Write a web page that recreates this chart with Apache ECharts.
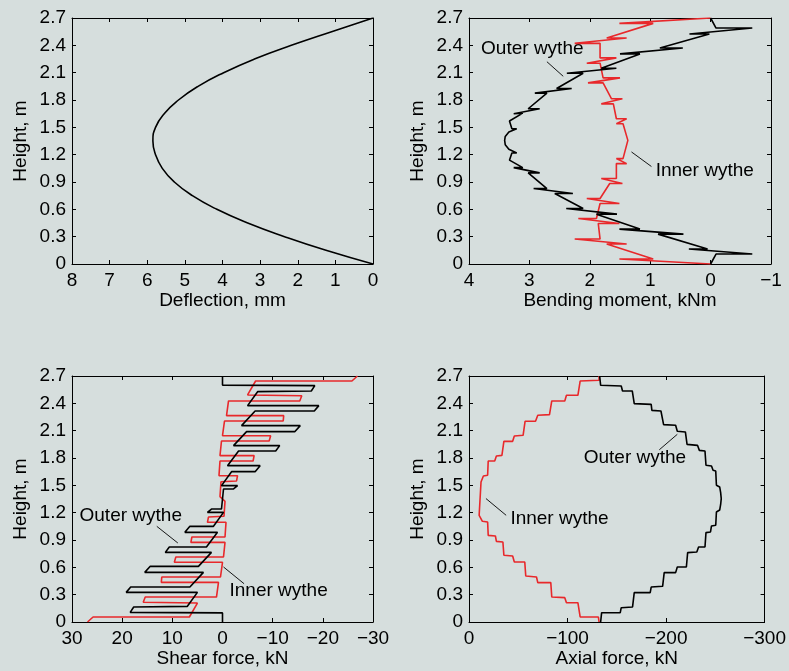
<!DOCTYPE html>
<html>
<head>
<meta charset="utf-8">
<script src="https://cdn.jsdelivr.net/npm/echarts/dist/echarts.min.js"></script>
<style>
html, body { margin: 0; padding: 0; background: #d6dedd; }
#container { width: 789px; height: 671px; }
</style>
</head>
<body>
<div id="container"></div>
<script>
// [value, height] pairs
var deflection = [
    [0, 0], [1.25, 0.15], [2.35, 0.3], [3.33, 0.45], [4.15, 0.6], [4.8, 0.75], [5.28, 0.9],
    [5.6, 1.05], [5.78, 1.2], [5.85, 1.35], [5.78, 1.5], [5.55, 1.65], [5.17, 1.8], [4.65, 1.95],
    [3.97, 2.1], [3.15, 2.25], [2.17, 2.4], [1.1, 2.55], [0, 2.7]
];

var momentOuter = [
    [0, 2.70], [-0.09, 2.59], [-0.69, 2.59], [0.35, 2.525], [0.02, 2.525], [0.84, 2.371], [0.46, 2.371],
    [1.50, 2.306], [1.17, 2.306], [1.81, 2.149], [1.56, 2.149], [2.38, 2.094], [2.11, 2.094],
    [2.55, 1.926], [2.30, 1.926], [2.91, 1.875], [2.71, 1.875], [3.02, 1.704], [2.83, 1.704],
    [3.26, 1.649], [3.11, 1.656], [3.33, 1.57], [3.29, 1.485], [3.21, 1.485], [3.34, 1.45],
    [3.40, 1.40], [3.41, 1.357], [3.40, 1.31], [3.34, 1.26], [3.21, 1.219], [3.29, 1.219],
    [3.33, 1.14], [3.11, 1.058], [3.26, 1.058], [2.83, 1.000], [3.02, 1.000], [2.71, 0.828],
    [2.93, 0.828], [2.28, 0.773], [2.58, 0.773], [2.11, 0.609], [2.39, 0.609], [1.55, 0.547],
    [1.89, 0.547], [1.17, 0.383], [1.51, 0.383], [0.45, 0.328], [0.87, 0.328], [0.05, 0.164],
    [0.36, 0.164], [-0.69, 0.109], [-0.09, 0.109], [0, 0]
];

var momentInner = [
    [0, 2.70], [1.51, 2.641], [0.95, 2.641], [1.72, 2.481], [1.39, 2.481], [2.25, 2.422], [1.83, 2.422],
    [1.83, 2.262], [1.56, 2.262], [2.05, 2.204], [1.83, 2.204], [1.78, 2.043], [1.50, 2.043],
    [2.03, 1.988], [1.78, 1.988], [1.64, 1.813], [1.46, 1.813], [1.81, 1.758], [1.61, 1.758],
    [1.56, 1.594], [1.39, 1.594], [1.56, 1.540], [1.45, 1.540], [1.37, 1.357],
    [1.45, 1.157], [1.56, 1.157], [1.39, 1.102], [1.56, 1.102], [1.56, 0.938], [1.81, 0.938],
    [1.46, 0.883], [1.67, 0.883], [1.83, 0.719], [2.05, 0.719], [1.51, 0.664], [1.83, 0.664],
    [1.89, 0.500], [2.19, 0.500], [1.51, 0.445], [1.86, 0.445], [1.83, 0.274], [2.25, 0.274],
    [1.39, 0.219], [1.72, 0.219], [0.95, 0.055], [1.51, 0.055], [0, 0]
];

var shearOuter = [
    [0, 2.70], [0, 2.60], [-18.4, 2.594], [-17.7, 2.536], [-7.0, 2.528], [-5.0, 2.375], [-19.2, 2.375],
    [-18.3, 2.316], [-6.5, 2.316], [-3.8, 2.155], [-15.5, 2.155], [-14.4, 2.089], [-4.8, 2.089],
    [-2.2, 1.936], [-11.4, 1.936], [-10.6, 1.877], [-3.2, 1.877], [-1.0, 1.716], [-7.5, 1.716],
    [-6.5, 1.650], [-1.8, 1.650], [0.2, 1.497], [-3.0, 1.497], [-2.2, 1.460], [-0.2, 1.460],
    [0.2, 1.240], [2.2, 1.240], [3.0, 1.203], [-0.2, 1.203], [1.8, 1.050], [6.5, 1.050],
    [7.5, 0.984], [1.0, 0.984], [3.2, 0.823], [10.6, 0.823], [11.4, 0.764], [2.2, 0.764],
    [4.8, 0.611], [14.4, 0.611], [15.5, 0.545], [3.8, 0.545], [6.5, 0.384], [18.3, 0.384],
    [19.2, 0.325], [5.0, 0.325], [7.0, 0.172], [17.7, 0.164], [18.4, 0.106], [0, 0.10], [0, 0]
];

var shearInner = [
    [-26.9, 2.70], [-25.8, 2.645], [-6.6, 2.645], [-5.0, 2.492], [-15.8, 2.484], [-15.4, 2.426],
    [-1.2, 2.426], [-0.8, 2.265], [-12.2, 2.265], [-12.1, 2.206], [-0.4, 2.206], [0.0, 2.045],
    [-9.6, 2.045], [-9.3, 1.987], [0.2, 1.987], [0.5, 1.826], [-6.3, 1.826], [-6.1, 1.767],
    [0.5, 1.767], [0.7, 1.606], [-3.0, 1.606], [-2.8, 1.548], [0.3, 1.540], [0.5, 1.376],
    [-0.5, 1.324], [-0.3, 1.160], [2.8, 1.152], [3.0, 1.094], [-0.7, 1.094], [-0.5, 0.933],
    [6.1, 0.933], [6.3, 0.874], [-0.5, 0.874], [-0.2, 0.713], [9.3, 0.713], [9.6, 0.655],
    [0, 0.655], [0.4, 0.494], [12.1, 0.494], [12.2, 0.435], [0.8, 0.435], [1.2, 0.274],
    [15.4, 0.274], [15.8, 0.216], [5.0, 0.208], [6.6, 0.055], [25.8, 0.055], [26.9, 0]
];

var axialOuter = [
    [-132.6, 2.70], [-133.6, 2.598], [-154.5, 2.591], [-155.8, 2.536], [-165.7, 2.536],
    [-167.7, 2.397], [-184.9, 2.389], [-185.6, 2.323], [-194.8, 2.316], [-197.5, 2.166],
    [-209.7, 2.159], [-211.4, 2.093], [-219.6, 2.086], [-221.3, 1.950], [-231.9, 1.939],
    [-233.8, 1.884], [-239.5, 1.877], [-240.5, 1.720], [-246.1, 1.712], [-247.7, 1.665],
    [-250.4, 1.657], [-251.1, 1.500], [-254.4, 1.482], [-255.4, 1.42], [-256.0, 1.354],
    [-255.4, 1.29], [-254.4, 1.229], [-251.1, 1.207], [-250.4, 1.061], [-246.1, 1.054],
    [-245.1, 0.988], [-240.5, 0.981], [-239.5, 0.823], [-233.0, 0.823], [-231.2, 0.768],
    [-221.9, 0.761], [-220.6, 0.604], [-211.4, 0.604], [-209.7, 0.542], [-198.1, 0.542],
    [-196.5, 0.392], [-184.9, 0.384], [-183.9, 0.322], [-167.7, 0.322], [-166.0, 0.165],
    [-154.5, 0.157], [-153.5, 0.102], [-134.6, 0.102], [-133.6, 0]
];

var axialInner = [
    [-132.0, 2.70], [-132.0, 2.653], [-112.8, 2.645], [-110.5, 2.488], [-98.9, 2.488],
    [-97.2, 2.426], [-84.0, 2.426], [-81.7, 2.276], [-69.8, 2.269], [-67.5, 2.203],
    [-56.9, 2.203], [-54.9, 2.049], [-46.0, 2.042], [-44.3, 1.983], [-35.4, 1.983],
    [-33.4, 1.829], [-27.8, 1.822], [-26.1, 1.767], [-19.5, 1.767], [-18.9, 1.610],
    [-14.6, 1.603], [-12.2, 1.537], [-10.3, 1.526], [-10.3, 1.171], [-12.2, 1.160],
    [-13.6, 1.105], [-18.9, 1.098], [-19.5, 0.951], [-26.8, 0.944], [-27.8, 0.885],
    [-34.4, 0.878], [-35.4, 0.732], [-44.3, 0.724], [-46.0, 0.659], [-56.6, 0.659],
    [-57.6, 0.505], [-68.5, 0.494], [-69.8, 0.432], [-83.0, 0.432], [-84.0, 0.274],
    [-97.2, 0.267], [-98.9, 0.212], [-110.5, 0.212], [-112.8, 0.055], [-131.3, 0.055], [-132.0, 0]
];

var panels = [
    {min: 0, max: 8, interval: 1, name: 'Deflection, mm'},
    {min: -1, max: 4, interval: 1, name: 'Bending moment, kNm'},
    {min: -30, max: 30, interval: 10, name: 'Shear force, kN'},
    {min: -300, max: 0, interval: 100, name: 'Axial force, kN'}
];

var notes = [
    {panel: 1, text: 'Outer wythe', at: [3.80, 2.36], from: [2.71, 2.22], to: [2.44, 2.06]},
    {panel: 1, text: 'Inner wythe', at: [0.91, 1.02], from: [1.31, 1.23], to: [0.98, 1.07]},
    {panel: 2, text: 'Outer wythe', at: [28.5, 1.17], from: [13.1, 1.05], to: [8.9, 0.867]},
    {panel: 2, text: 'Inner wythe', at: [-1.4, 0.348], from: [-0.2, 0.604], to: [-4.3, 0.42]},
    {panel: 3, text: 'Outer wythe', at: [-116.4, 1.80], from: [-211.4, 2.06], to: [-193.1, 1.89]},
    {panel: 3, text: 'Inner wythe', at: [-42, 1.135], from: [-17.2, 1.355], to: [-37.7, 1.171]}
];

var FONT = '"Liberation Sans", Arial, sans-serif';
var INK = '#000';
var RED = '#e8282b';

var grids = [
    {left: 72, top: 18, width: 301, height: 246},
    {left: 469, top: 18, width: 302, height: 246},
    {left: 72, top: 376, width: 301, height: 246},
    {left: 469, top: 376, width: 302, height: 246}
];

function minus(v) {
    return v < 0 ? '\u2212' + Math.abs(v) : String(v);
}

var xAxes = [], yAxes = [];
panels.forEach(function (p, i) {
    var common = {
        type: 'value', gridIndex: i, min: p.min, max: p.max, interval: p.interval, inverse: true,
        axisLine: {show: true, onZero: false, lineStyle: {color: INK, width: 1}},
        axisTick: {show: true, inside: true, length: 4, lineStyle: {color: INK}},
        splitLine: {show: false}
    };
    xAxes.push(Object.assign({}, common, {
        position: 'bottom',
        name: p.name, nameLocation: 'middle', nameGap: 27,
        nameTextStyle: {color: INK, fontSize: 19, fontFamily: FONT},
        axisLabel: {color: INK, fontSize: 19, fontFamily: FONT, margin: 7, formatter: minus}
    }));
    xAxes.push(Object.assign({}, common, {position: 'top', axisLabel: {show: false}}));

    var ycommon = {
        type: 'value', gridIndex: i, min: 0, max: 2.7, interval: 0.3,
        axisLine: {show: true, onZero: false, lineStyle: {color: INK, width: 1}},
        axisTick: {show: true, inside: true, length: 4, lineStyle: {color: INK}},
        splitLine: {show: false}
    };
    yAxes.push(Object.assign({}, ycommon, {
        position: 'left',
        name: 'Height, m', nameLocation: 'middle', nameGap: 42,
        nameTextStyle: {color: INK, fontSize: 19, fontFamily: FONT},
        axisLabel: {color: INK, fontSize: 19, fontFamily: FONT, margin: 6,
            formatter: function (v) { return v === 0 ? '0' : v.toFixed(1); }}
    }));
    yAxes.push(Object.assign({}, ycommon, {position: 'right', axisLabel: {show: false}}));
});

function line(data, panel, color) {
    return {
        type: 'line', data: data, xAxisIndex: panel * 2, yAxisIndex: panel * 2,
        showSymbol: false, symbol: 'none', animation: false,
        lineStyle: {color: color, width: 1.6}
    };
}

var defl = line(deflection, 0, INK);
defl.smooth = 0.5;

var series = [
    defl,
    line(momentInner, 1, RED), line(momentOuter, 1, INK),
    line(shearInner, 2, RED), line(shearOuter, 2, INK),
    line(axialInner, 3, RED), line(axialOuter, 3, INK)
];
// first series index for each panel, used to place the labels
var panelSeries = [0, 1, 3, 5];

var myChart = echarts.init(document.getElementById('container'));
myChart.setOption({
    backgroundColor: '#d6dedd',
    animation: false,
    grid: grids,
    xAxis: xAxes,
    yAxis: yAxes,
    series: series
});

var graphics = [];
notes.forEach(function (n) {
    var finder = {seriesIndex: panelSeries[n.panel]};
    var p = myChart.convertToPixel(finder, n.at);
    var a = myChart.convertToPixel(finder, n.from);
    var b = myChart.convertToPixel(finder, n.to);
    graphics.push({
        type: 'text', x: p[0], y: p[1],
        style: {text: n.text, fill: INK, fontSize: 19, fontFamily: FONT, align: 'left', verticalAlign: 'middle'}
    });
    graphics.push({
        type: 'line', shape: {x1: a[0], y1: a[1], x2: b[0], y2: b[1]},
        style: {stroke: INK, lineWidth: 0.9}
    });
});
myChart.setOption({graphic: graphics});
</script>
</body>
</html>
